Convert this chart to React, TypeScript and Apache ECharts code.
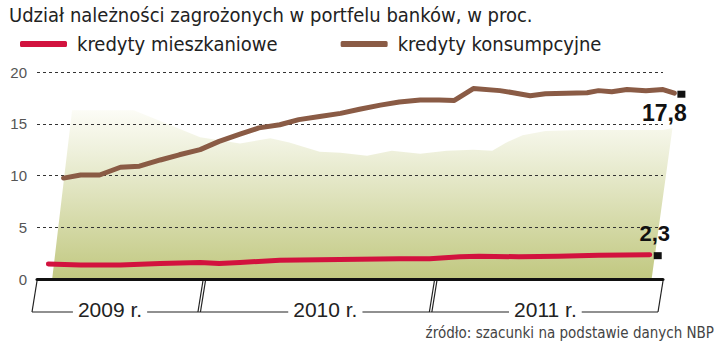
import React, { useEffect, useRef } from "react";
import * as echarts from "echarts";

const TITLE = "Udział należności zagrożonych w portfelu banków, w proc.";
const SOURCE = "źródło: szacunki na podstawie danych NBP";
const SERIES_NAMES = ["kredyty mieszkaniowe", "kredyty konsumpcyjne"];
const SERIES_COLORS = ["#d2123e", "#8a5b45"];
const Y_MIN = 0;
const Y_MAX = 20;
const Y_INTERVAL = 5;
const YEAR_LABELS = ["2009 r.", "2010 r.", "2011 r."];
// boundaries of the year brackets and label centres, in months on the x axis
const YEAR_BOUNDS = [0, 8.8, 21.0, 33];
const YEAR_LABEL_POS = [3.85, 15.2, 26.8];
const X_MAX = 33; // end of the axis line and grid lines
const X_MAX_PLOT = 34; // plot area for the series (the last point overshoots the axis)

// kredyty mieszkaniowe
const MIESZK_X = [0.6, 2.3, 4.4, 6.5, 8.6, 9.6, 10.7, 12.8, 14.9, 17.0, 19.1, 20.7, 22.3, 23.3, 25.4, 27.5, 29.6, 32.3];
const MIESZK_Y = [1.45, 1.35, 1.35, 1.5, 1.6, 1.5, 1.6, 1.8, 1.85, 1.9, 1.95, 1.95, 2.15, 2.2, 2.15, 2.2, 2.3, 2.35];

// kredyty konsumpcyjne
const KONS_X = [1.4, 2.3, 3.3, 4.4, 5.4, 6.5, 7.5, 8.6, 9.6, 10.7, 11.7, 12.8, 13.8, 14.9, 16.0, 17.0, 18.1, 19.1, 20.2, 21.2, 22.0, 23.0, 24.4, 25.1, 26.0, 26.8, 27.9, 29.0, 29.6, 30.3, 31.1, 32.1, 33.0, 33.6];
const KONS_Y = [9.75, 10.05, 10.05, 10.8, 10.9, 11.5, 12.0, 12.5, 13.3, 14.0, 14.6, 14.9, 15.4, 15.7, 16.0, 16.4, 16.8, 17.1, 17.3, 17.3, 17.25, 18.4, 18.2, 18.0, 17.7, 17.9, 17.95, 18.0, 18.2, 18.1, 18.3, 18.2, 18.3, 17.95];

// end labels
const END_LABELS = ["2,3", "17,8"];

// decorative background shape (outline)
const BG_X = [0.8, 1.85, 5.1, 8.6, 10.7, 12.3, 13.3, 14.9, 16.0, 17.4, 18.7, 20.2, 21.6, 23.0, 24.0, 24.7, 25.6, 26.8, 28.6, 33.0, 33.5, 32.4];
const BG_Y = [0, 16.3, 16.3, 13.7, 13.1, 13.6, 13.2, 12.3, 12.2, 11.9, 12.4, 12.1, 12.4, 12.5, 12.4, 13.15, 13.9, 14.3, 14.4, 14.4, 14.6, 0];

const NARROW = "'Liberation Sans Narrow', 'DejaVu Sans Condensed', sans-serif";
const SANS = "'Liberation Sans', Arial, sans-serif";

function pairs(xs: number[], ys: number[]) {
  return xs.map((x, i) => [x, ys[i]]);
}

export default function App() {
  const ref = useRef<HTMLDivElement>(null);
  useEffect(() => {
    if (!ref.current) return;
    const chart = echarts.init(ref.current, undefined, { renderer: "svg" });
    const mData = pairs(MIESZK_X, MIESZK_Y);
    const kData = pairs(KONS_X, KONS_Y);
    const mLast = mData[mData.length - 1];
    const kLast = kData[kData.length - 1];

    const gridLeft = 37;
    const gridWidth = 626;
    const plotWidth = (gridWidth * X_MAX_PLOT) / X_MAX;

    chart.setOption({
      animation: false,
      backgroundColor: "#ffffff",
      title: {
        text: TITLE,
        left: 4,
        top: 0,
        textStyle: { fontFamily: NARROW, fontSize: 20, fontWeight: "normal", color: "#222" },
      },
      legend: {
        left: 15,
        top: 29,
        itemWidth: 47,
        itemHeight: 6,
        itemGap: 63,
        icon: "roundRect",
        data: SERIES_NAMES,
        textStyle: { fontFamily: NARROW, fontSize: 20, color: "#222", padding: [0, 0, 0, 5] },
      },
      grid: [
        { left: gridLeft, width: gridWidth, top: 72, bottom: 65, containLabel: false },
        { left: gridLeft, width: plotWidth, top: 72, bottom: 65, containLabel: false },
      ],
      xAxis: [
        {
          type: "value",
          gridIndex: 0,
          min: 0,
          max: X_MAX,
          z: 3,
          axisLine: { show: true, lineStyle: { color: "#111", width: 3 } },
          axisTick: { show: false },
          axisLabel: { show: false },
          splitLine: { show: false },
        },
        {
          type: "value",
          gridIndex: 1,
          min: 0,
          max: X_MAX_PLOT,
          show: false,
        },
      ],
      yAxis: [
        {
          type: "value",
          gridIndex: 0,
          min: Y_MIN,
          max: Y_MAX,
          interval: Y_INTERVAL,
          z: 3,
          axisLine: { show: false },
          axisTick: { show: false },
          axisLabel: { fontFamily: SANS, fontSize: 15, color: "#555", margin: 10 },
          splitLine: { show: true, lineStyle: { color: "#333", width: 1, type: [3, 3] } },
        },
        {
          type: "value",
          gridIndex: 1,
          min: Y_MIN,
          max: Y_MAX,
          interval: Y_INTERVAL,
          show: false,
          splitLine: { show: false },
        },
      ],
      series: [
        {
          type: "custom",
          name: "bg",
          xAxisIndex: 1,
          yAxisIndex: 1,
          z: 1,
          silent: true,
          data: [[0, 0]],
          renderItem: (_params: any, api: any) => {
            const pts = BG_X.map((x, i) => api.coord([x, BG_Y[i]]));
            return {
              type: "polygon",
              shape: { points: pts },
              style: {
                fill: new echarts.graphic.LinearGradient(0, 0, 0, 1, [
                  { offset: 0, color: "#fcfcf6" },
                  { offset: 0.25, color: "#eef0db" },
                  { offset: 1, color: "#c1c880" },
                ]),
              },
            };
          },
        },
        {
          type: "line",
          name: SERIES_NAMES[0],
          xAxisIndex: 1,
          yAxisIndex: 1,
          color: SERIES_COLORS[0],
          z: 5,
          symbol: "none",
          data: mData,
          lineStyle: { width: 5, color: SERIES_COLORS[0], cap: "round", join: "round" },
          markPoint: {
            symbol: "rect",
            symbolSize: [8, 7],
            symbolOffset: [8, 1],
            itemStyle: { color: "#111" },
            label: {
              show: true,
              position: "inside",
              offset: [-3, -22],
              formatter: END_LABELS[0],
              fontFamily: SANS,
              fontWeight: "bold",
              fontSize: 22,
              color: "#111",
            },
            data: [{ coord: mLast }],
          },
        },
        {
          type: "line",
          name: SERIES_NAMES[1],
          xAxisIndex: 1,
          yAxisIndex: 1,
          color: SERIES_COLORS[1],
          z: 5,
          symbol: "none",
          data: kData,
          lineStyle: { width: 5, color: SERIES_COLORS[1], cap: "round", join: "round" },
          markPoint: {
            symbol: "rect",
            symbolSize: [8, 7],
            symbolOffset: [7, 1],
            itemStyle: { color: "#111" },
            label: {
              show: true,
              position: "inside",
              offset: [-17, 19],
              formatter: END_LABELS[1],
              fontFamily: SANS,
              fontWeight: "bold",
              fontSize: 23,
              color: "#111",
            },
            data: [{ coord: kLast }],
          },
        },
      ],
    });

    // year brackets under the axis
    const y0 = chart.convertToPixel({ yAxisIndex: 0 }, 0) as number;
    const topY = y0 + 2;
    const botY = y0 + 33;
    const skew = 5;
    const px = (v: number) => chart.convertToPixel({ xAxisIndex: 0 }, v) as number;
    const bx = YEAR_BOUNDS.map(px);
    const canvas = document.createElement("canvas");
    const ctx = canvas.getContext("2d");
    const yearFont = "21px 'Liberation Sans', Arial, sans-serif";
    if (ctx) ctx.font = yearFont;
    const graphics: any[] = [];
    const lineStyle = { stroke: "#222", lineWidth: 1.2 };
    graphics.push({ type: "line", shape: { x1: bx[0], y1: topY, x2: bx[0] - skew, y2: botY }, style: lineStyle });
    graphics.push({ type: "line", shape: { x1: bx[3], y1: topY, x2: bx[3] - skew, y2: botY }, style: lineStyle });
    for (let i = 1; i < bx.length - 1; i++) {
      graphics.push({ type: "line", shape: { x1: bx[i] - 1, y1: topY, x2: bx[i] - 1 - skew, y2: botY }, style: lineStyle });
      graphics.push({ type: "line", shape: { x1: bx[i] + 1.5, y1: topY, x2: bx[i] + 1.5 - skew, y2: botY }, style: lineStyle });
    }
    for (let i = 0; i < YEAR_LABELS.length; i++) {
      const l = bx[i] - skew;
      const r = bx[i + 1] - skew;
      const c = px(YEAR_LABEL_POS[i]);
      const w = ctx ? ctx.measureText(YEAR_LABELS[i]).width : 66;
      const half = w / 2 + 5;
      graphics.push({ type: "line", shape: { x1: l, y1: botY, x2: c - half, y2: botY }, style: lineStyle });
      graphics.push({ type: "line", shape: { x1: c + half, y1: botY, x2: r, y2: botY }, style: lineStyle });
      graphics.push({
        type: "text",
        x: c,
        y: botY - 3,
        style: {
          text: YEAR_LABELS[i],
          font: yearFont,
          fill: "#222",
          align: "center",
          verticalAlign: "middle",
        },
      });
    }
    graphics.push({
      type: "text",
      right: 6,
      top: 325,
      style: { text: SOURCE, font: "15px " + NARROW, fill: "#444" },
    });
    chart.setOption({ graphic: graphics });

    return () => chart.dispose();
  }, []);
  return <div ref={ref} style={{ position: "absolute", left: 0, top: 0, width: 720, height: 344 }} />;
}
